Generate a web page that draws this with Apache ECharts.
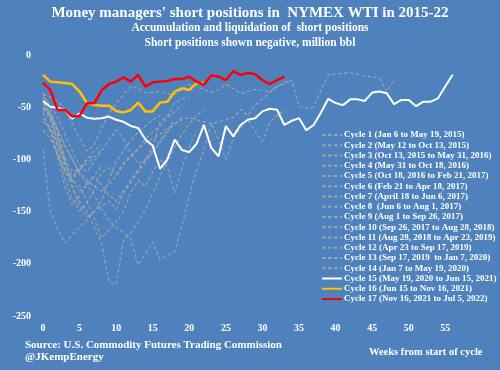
<!DOCTYPE html>
<html><head><meta charset="utf-8">
<script src="https://cdn.jsdelivr.net/npm/echarts@6/dist/echarts.min.js"></script>
<style>html,body{margin:0;padding:0;background:#4f81bd}#c{width:500px;height:370px}</style>
</head><body><div id="c"></div>
<script>
const cycleNames = [
  "Cycle 1 (Jan 6 to May 19, 2015)",
  "Cycle 2 (May 12 to Oct 13, 2015)",
  "Cycle 3 (Oct 13, 2015 to May 31, 2016)",
  "Cycle 4 (May 31 to Oct 18, 2016)",
  "Cycle 5 (Oct 18, 2016 to Feb 21, 2017)",
  "Cycle 6 (Feb 21 to Apr 18, 2017)",
  "Cycle 7 (April 18 to Jun 6, 2017)",
  "Cycle 8  (Jun 6 to Aug 1, 2017)",
  "Cycle 9 (Aug 1 to Sep 26, 2017)",
  "Cycle 10 (Sep 26, 2017 to Aug 28, 2018)",
  "Cycle 11 (Aug 28, 2018 to Apr 23, 2019)",
  "Cycle 12 (Apr 23 to Sep 17, 2019)",
  "Cycle 13 (Sep 17, 2019  to Jan 7, 2020)",
  "Cycle 14 (Jan 7 to May 19, 2020)",
  "Cycle 15 (May 19, 2020 to Jun 15, 2021)",
  "Cycle 16 (Jun 15 to Nov 16, 2021)",
  "Cycle 17 (Nov 16, 2021 to Jul 5, 2022)"
];
const cycle1 = [-52,-62,-90,-118,-138,-150,-142,-128,-112,-108,-115,-104,-98,-90,-80,-74,-68,-60,-54,-48];
const cycle2 = [-42,-58,-84,-108,-128,-140,-150,-165,-180,-217,-220,-178,-170,-160,-148,-132,-116,-102,-88,-76,-66,-58,-52];
const cycle3 = [-46,-56,-70,-86,-100,-114,-124,-134,-148,-158,-165,-170,-176,-201,-190,-179,-196,-192,-188,-164,-135,-110,-91,-65,-81,-100,-80,-70,-62,-73,-83,-64,-58,-53];
const cycle4 = [-60,-72,-98,-126,-144,-136,-122,-116,-124,-134,-140,-130,-120,-110,-100,-88,-64,-59,-46,-42,-40];
const cycle5 = [-91,-150,-166,-180,-172,-165,-158,-150,-145,-140,-148,-132,-122,-112,-102,-92,-82,-72,-62];
const cycle6 = [-55,-72,-96,-112,-120,-108,-100,-92,-86];
const cycle7 = [-36,-52,-76,-104,-116,-110,-100,-96];
const cycle8 = [-45,-60,-80,-98,-112,-110,-104,-98,-90];
const cycle9 = [-64,-70,-86,-102,-120,-130,-126,-116,-106];
const cycle10 = [-50,-58,-72,-88,-100,-112,-120,-126,-130,-124,-116,-104,-96,-90,-84,-80,-76,-70,-66,-62,-60,-62,-64,-66,-64,-62,-60,-52,-58,-48,-42,-36,-30,-26,-24,-49,-51,-50,-34,-19,-18,-17.5,-17,-18,-20,-21,-22,-35,-24];
const cycle11 = [-38,-40,-44,-52,-66,-80,-92,-86,-70,-56,-46,-38,-30,-32,-36,-36,-35,-37,-38,-33,-28,-30,-33,-36,-33,-28,-32,-37,-35,-33,-34,-35,-30,-28,-24];
const cycle12 = [-72,-80,-95,-110,-120,-125,-140,-156,-175,-168,-160,-150,-132,-120,-126,-112,-100,-107,-132,-108,-88,-72];
const cycle13 = [-50,-58,-72,-100,-125,-145,-155,-150,-140,-120,-102,-92,-82,-74,-68,-62,-58];
const cycle14 = [-40,-48,-60,-76,-92,-106,-112,-102,-92,-82,-72,-80,-94,-104,-100,-94,-84,-74,-66,-60];
const cycle15 = [-44,-49.5,-50.5,-53,-61,-56,-60,-61,-60.5,-59,-62,-64,-68,-70,-81,-87,-109,-100,-81,-91,-93,-85,-67,-89,-97,-68,-78,-67,-62,-60.5,-54,-51.5,-52.5,-67,-63,-60.5,-72,-67,-55,-42,-46,-48,-42.5,-42.5,-44,-36,-35,-36.7,-47,-43,-43,-49,-44.7,-44.7,-41.5,-30,-19];
const cycle16 = [-19,-25.5,-26,-26.8,-27.8,-35,-46,-48,-48.5,-48.5,-53.6,-55,-52.7,-45.6,-54,-54,-45.6,-44.7,-35,-32,-33.5,-27,-26.5];
const cycle17 = [-26.5,-33.5,-52.7,-52.7,-59,-58.4,-46.3,-46.3,-34,-27.8,-25.5,-21.4,-25.5,-19,-30.3,-26.2,-25.5,-25,-23,-23,-20.8,-25.5,-28.7,-19.5,-20.8,-24,-15.5,-19,-17,-18.5,-24,-27.8,-24,-20.8];
const greyCycles = [cycle1,cycle2,cycle3,cycle4,cycle5,cycle6,cycle7,cycle8,cycle9,cycle10,cycle11,cycle12,cycle13,cycle14];
const xTickLabels = [0,5,10,15,20,25,30,35,40,45,50,55];
const yTickLabels = [0,-50,-100,-150,-200,-250];

const FONT = '"Liberation Serif", "DejaVu Serif", serif';
const toPairs = arr => arr.map((v, i) => [i, v]);
const series = [];
greyCycles.forEach((d, k) => {
  series.push({
    name: cycleNames[k], type: 'line', data: toPairs(d), symbol: 'none',
    lineStyle: { color: '#bab2a4', width: 1.2, type: [3.5, 2.5], opacity: 0.7 },
    itemStyle: { color: '#bab2a4' }, z: 2, silent: true
  });
});
series.push({ name: cycleNames[14], type: 'line', data: toPairs(cycle15), symbol: 'none',
  lineStyle: { color: '#ffffff', width: 2 }, itemStyle: { color: '#ffffff' }, z: 3 });
series.push({ name: cycleNames[15], type: 'line', data: toPairs(cycle16), symbol: 'none',
  lineStyle: { color: '#ffc000', width: 2.5 }, itemStyle: { color: '#ffc000' }, z: 4 });
series.push({ name: cycleNames[16], type: 'line', data: toPairs(cycle17), symbol: 'none',
  lineStyle: { color: '#ff0000', width: 2.5 }, itemStyle: { color: '#ff0000' }, z: 5 });

const chart = echarts.init(document.getElementById('c'), null, { renderer: 'canvas' });
chart.setOption({
  backgroundColor: '#4f81bd',
  animation: false,
  grid: { left: 43, top: 55, width: 438.9, height: 261 },
  xAxis: {
    type: 'value', min: 0, max: 60, interval: 5,
    axisLine: { show: false }, axisTick: { show: false }, splitLine: { show: false },
    axisLabel: { color: '#fff', fontFamily: FONT, fontWeight: 'bold', fontSize: 10, margin: 7,
      formatter: v => xTickLabels.indexOf(v) >= 0 ? String(v) : '' }
  },
  yAxis: {
    type: 'value', min: -250, max: 0, interval: 50,
    axisLine: { show: false }, axisTick: { show: false }, splitLine: { show: false },
    axisLabel: { color: '#fff', fontFamily: FONT, fontWeight: 'bold', fontSize: 10, margin: 12,
      formatter: v => yTickLabels.indexOf(v) >= 0 ? String(v) : '' }
  },
  legend: {
    orient: 'vertical', left: 316, top: 125, itemWidth: 20, itemHeight: 10, itemGap: 0.25,
    data: cycleNames,
    itemStyle: { opacity: 0, borderWidth: 0 },
    textStyle: { color: '#fff', fontFamily: FONT, fontWeight: 'bold', fontSize: 9, lineHeight: 10, padding: [0,0,0,-3] },
    selectedMode: false
  },
  graphic: [
    { type: 'text', x: 250, y: 13, style: { text: "Money managers' short positions in  NYMEX WTI in 2015-22", fill: '#fff',
      font: 'bold 15px ' + FONT, textAlign: 'center', textVerticalAlign: 'middle' } },
    { type: 'text', x: 250, y: 28.5, style: { text: 'Accumulation and liquidation of  short positions', fill: '#fff',
      font: 'bold 11.5px ' + FONT, textAlign: 'center', textVerticalAlign: 'middle' } },
    { type: 'text', x: 250, y: 43, style: { text: 'Short positions shown negative, million bbl', fill: '#fff',
      font: 'bold 11.5px ' + FONT, textAlign: 'center', textVerticalAlign: 'middle' } },
    { type: 'text', x: 25, y: 345.5, style: { text: 'Source: U.S. Commodity Futures Trading Commission', fill: '#fff',
      font: 'bold 11px ' + FONT, textAlign: 'left', textVerticalAlign: 'middle' } },
    { type: 'text', x: 25, y: 357, style: { text: '@JKempEnergy', fill: '#fff',
      font: 'bold 11px ' + FONT, textAlign: 'left', textVerticalAlign: 'middle' } },
    { type: 'text', x: 369, y: 352.5, style: { text: 'Weeks from start of cycle', fill: '#fff',
      font: 'bold 10.5px ' + FONT, textAlign: 'left', textVerticalAlign: 'middle' } }
  ],
  series: series
});
</script>
</body></html>
